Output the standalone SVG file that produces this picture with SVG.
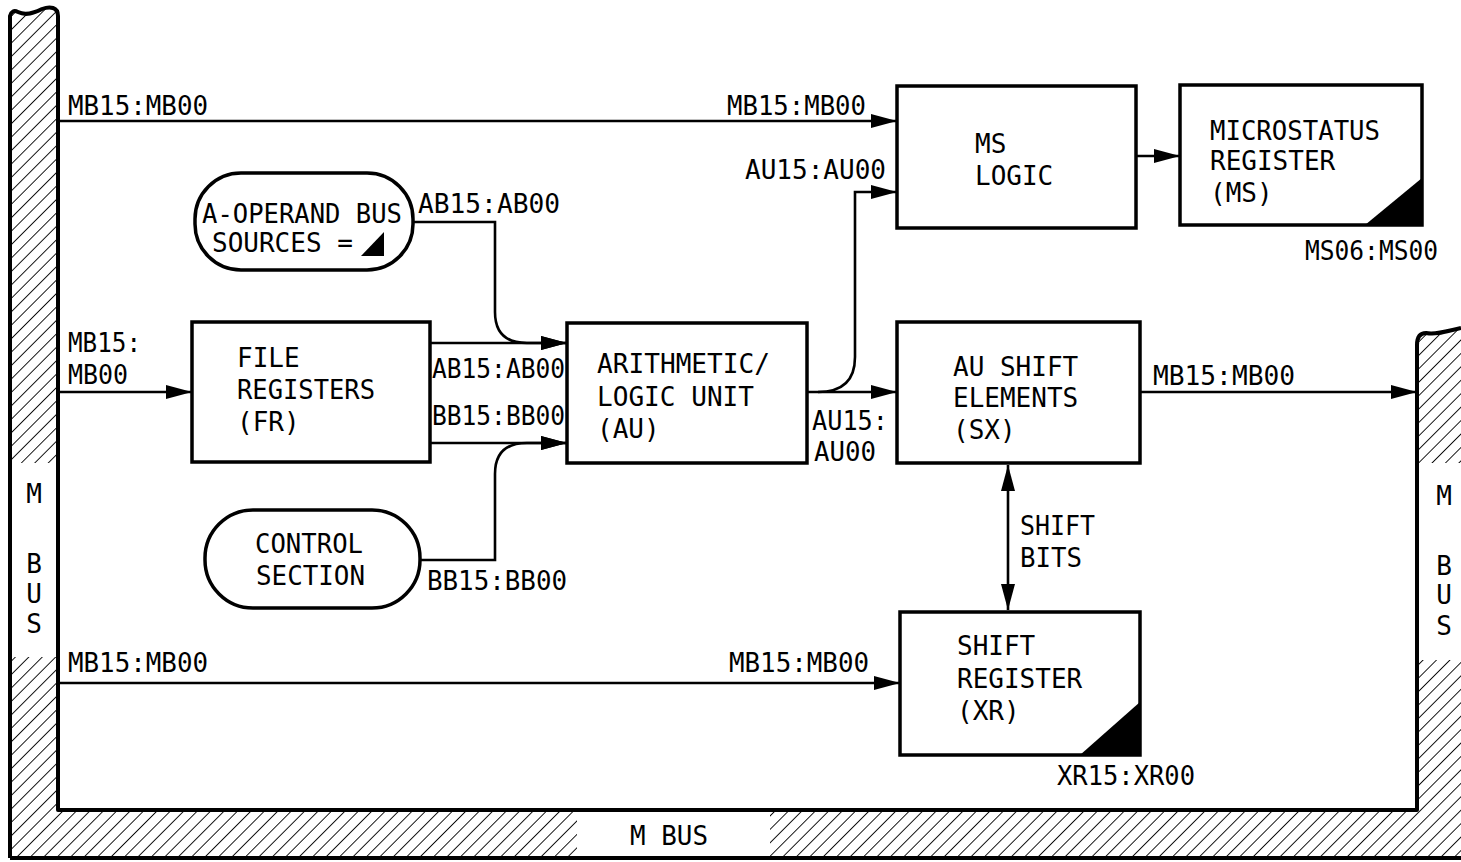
<svg xmlns="http://www.w3.org/2000/svg" width="1461" height="862" viewBox="0 0 1461 862">
<style>
text{font-family:"DejaVu Sans Mono","Liberation Mono",monospace;font-size:26px;fill:#000}
.box{fill:#fff;stroke:#000;stroke-width:3.5}
.term{fill:#fff;stroke:#000;stroke-width:3.5}
.bus{fill:none;stroke:#000;stroke-width:4;stroke-linejoin:round}
.c{fill:none;stroke:#000;stroke-width:2.6}
.a{marker-end:url(#ah)}
.tri{fill:#000}
</style>
<defs>
<pattern id="hatch" patternUnits="userSpaceOnUse" width="9.5" height="9.5" patternTransform="rotate(45)">
<line x1="0" y1="-2" x2="0" y2="12" stroke="#000" stroke-width="1.8"/>
</pattern>
<marker id="ah" markerUnits="userSpaceOnUse" markerWidth="26" markerHeight="14" refX="26" refY="7" orient="auto-start-reverse">
<path d="M0,0 L26,7 L0,14 Z" fill="#000"/>
</marker>
</defs>
<rect width="1461" height="862" fill="#fff"/>

<g id="mbus">
<path d="M10,858 V16 Q12,9 18,12 C26,16 34,13 42,9 C50,6 58,7 58,16 V810 H1417 V345 Q1417,333 1426,333 C1437,335 1447,331 1461,328 V858 Z" fill="url(#hatch)"/>
<rect x="12" y="463" width="44" height="194" fill="#fff"/>
<rect x="577" y="812" width="193" height="44" fill="#fff"/>
<rect x="1419" y="463" width="42" height="197" fill="#fff"/>
<path class="bus" d="M10,858 V16 Q12,9 18,12 C26,16 34,13 42,9 C50,6 58,7 58,16 V810 H1417 V345 Q1417,333 1426,333 C1437,335 1447,331 1461,328"/>
<path class="bus" d="M10,858 H1461"/>
<text x="34" y="503" text-anchor="middle">M</text>
<text x="34" y="573" text-anchor="middle">B</text>
<text x="34" y="603" text-anchor="middle">U</text>
<text x="34" y="633" text-anchor="middle">S</text>
<text x="1444" y="505" text-anchor="middle">M</text>
<text x="1444" y="575" text-anchor="middle">B</text>
<text x="1444" y="604" text-anchor="middle">U</text>
<text x="1444" y="635" text-anchor="middle">S</text>
<text x="630" y="845" textLength="78" lengthAdjust="spacingAndGlyphs">M BUS</text>
</g>

<g id="connectors">
<path class="c a" d="M58,121 H897"/>
<path class="c a" d="M58,392 H192"/>
<path class="c a" d="M58,683 H900"/>
<path class="c a" d="M430,343 H567"/>
<path class="c a" d="M430,443 H567"/>
<path class="c a" d="M413,222 H495 V312 Q495,343 527,343 H567"/>
<path class="c a" d="M420,560 H495 V474 Q495,443 527,443 H567"/>
<path class="c a" d="M807,392 H897"/>
<path class="c a" d="M818,392 Q855,392 855,357 V192 H897"/>
<path class="c a" d="M1136,156 H1180"/>
<path class="c a" d="M1140,392 H1417"/>
<path class="c" d="M1008,465 V610" marker-start="url(#ah)" marker-end="url(#ah)"/>
<text x="68" y="115" textLength="140" lengthAdjust="spacingAndGlyphs">MB15:MB00</text>
<text x="727" y="115" textLength="139" lengthAdjust="spacingAndGlyphs">MB15:MB00</text>
<text x="745" y="179" textLength="141" lengthAdjust="spacingAndGlyphs">AU15:AU00</text>
<text x="418" y="213" textLength="142" lengthAdjust="spacingAndGlyphs">AB15:AB00</text>
<text x="68" y="352" textLength="73" lengthAdjust="spacingAndGlyphs">MB15:</text>
<text x="68" y="384" textLength="60" lengthAdjust="spacingAndGlyphs">MB00</text>
<text x="432" y="378" textLength="133" lengthAdjust="spacingAndGlyphs">AB15:AB00</text>
<text x="432" y="425" textLength="133" lengthAdjust="spacingAndGlyphs">BB15:BB00</text>
<text x="812" y="430" textLength="76" lengthAdjust="spacingAndGlyphs">AU15:</text>
<text x="814" y="461" textLength="62" lengthAdjust="spacingAndGlyphs">AU00</text>
<text x="1153" y="385" textLength="142" lengthAdjust="spacingAndGlyphs">MB15:MB00</text>
<text x="427" y="590" textLength="140" lengthAdjust="spacingAndGlyphs">BB15:BB00</text>
<text x="1020" y="535" textLength="75" lengthAdjust="spacingAndGlyphs">SHIFT</text>
<text x="1020" y="567" textLength="62" lengthAdjust="spacingAndGlyphs">BITS</text>
<text x="68" y="672" textLength="140" lengthAdjust="spacingAndGlyphs">MB15:MB00</text>
<text x="729" y="672" textLength="140" lengthAdjust="spacingAndGlyphs">MB15:MB00</text>
</g>

<g id="aop">
<rect class="term" x="195" y="173" width="218" height="97" rx="46" ry="46"/>
<text x="202" y="223" textLength="200" lengthAdjust="spacingAndGlyphs">A-OPERAND BUS</text>
<text x="212" y="252">SOURCES =</text>
<path class="tri" d="M361,256 L384,256 L384,232 Z"/>
</g>

<g id="control">
<rect class="term" x="205" y="510" width="215" height="98" rx="48" ry="48"/>
<text x="255" y="553" textLength="108" lengthAdjust="spacingAndGlyphs">CONTROL</text>
<text x="256" y="585" textLength="109" lengthAdjust="spacingAndGlyphs">SECTION</text>
</g>

<g id="fr">
<rect class="box" x="192" y="322" width="238" height="140"/>
<text x="237" y="367">FILE</text>
<text x="237" y="399" textLength="138" lengthAdjust="spacingAndGlyphs">REGISTERS</text>
<text x="237" y="431">(FR)</text>
</g>

<g id="au">
<rect class="box" x="567" y="323" width="240" height="140"/>
<text x="597" y="373" textLength="173" lengthAdjust="spacingAndGlyphs">ARITHMETIC/</text>
<text x="597" y="406" textLength="157" lengthAdjust="spacingAndGlyphs">LOGIC UNIT</text>
<text x="597" y="438">(AU)</text>
</g>

<g id="mslogic">
<rect class="box" x="897" y="86" width="239" height="142"/>
<text x="975" y="153">MS</text>
<text x="975" y="185">LOGIC</text>
</g>

<g id="ms">
<rect class="box" x="1180" y="85" width="242" height="140"/>
<path class="tri" d="M1365,225 L1422,225 L1422,178 Z"/>
<text x="1210" y="140" textLength="170" lengthAdjust="spacingAndGlyphs">MICROSTATUS</text>
<text x="1210" y="170">REGISTER</text>
<text x="1210" y="202">(MS)</text>
<text x="1305" y="260" textLength="133" lengthAdjust="spacingAndGlyphs">MS06:MS00</text>
</g>

<g id="sx">
<rect class="box" x="897" y="322" width="243" height="141"/>
<text x="953" y="376">AU SHIFT</text>
<text x="953" y="407">ELEMENTS</text>
<text x="953" y="439">(SX)</text>
</g>

<g id="xr">
<rect class="box" x="900" y="612" width="240" height="143"/>
<path class="tri" d="M1080,755 L1140,755 L1140,702 Z"/>
<text x="957" y="655">SHIFT</text>
<text x="957" y="688">REGISTER</text>
<text x="957" y="720">(XR)</text>
<text x="1057" y="785" textLength="138" lengthAdjust="spacingAndGlyphs">XR15:XR00</text>
</g>
</svg>
